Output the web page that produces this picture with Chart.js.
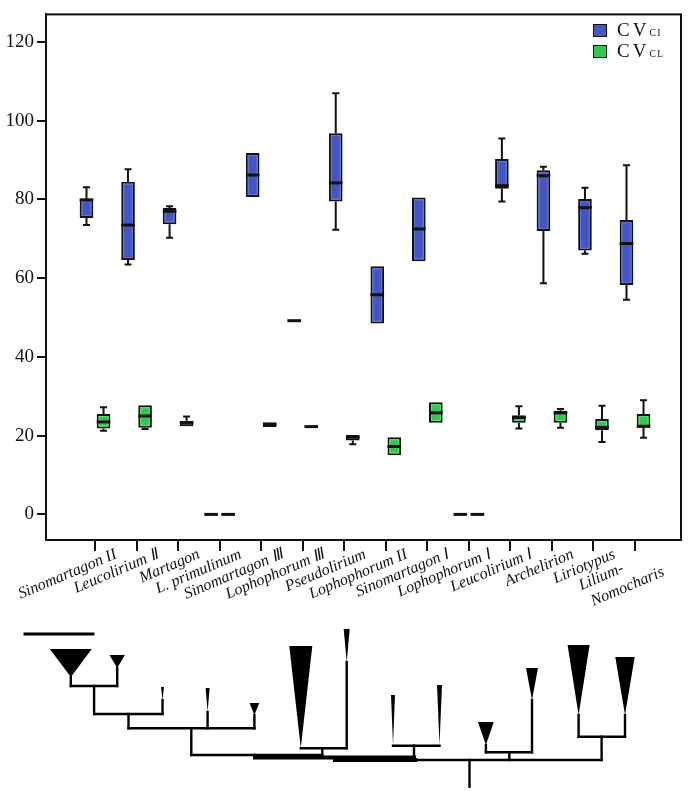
<!DOCTYPE html>
<html>
<head>
<meta charset="utf-8">
<script src="https://cdn.jsdelivr.net/npm/chart.js@4.4.1/dist/chart.umd.min.js"></script>
<style>
  html, body { margin: 0; padding: 0; background: #fff; }
  #wrap { position: relative; width: 689px; height: 791px; overflow: hidden; }
  #boxChart { position: absolute; left: 0; top: 0; }
  #treeChart { position: absolute; left: 0; top: 620px; }
  .legend { position: absolute; left: 593px; top: 19px; font-family: "Liberation Serif", serif; color: #111; }
  .legend .row { height: 21px; line-height: 21px; white-space: nowrap; }
  .legend .sw { display: inline-block; width: 12px; height: 11px; border: 1.5px solid #111; margin-right: 10px; vertical-align: -1px; }
  .legend .cv { font-size: 19px; letter-spacing: 3px; }
  .legend .sub { font-size: 9.5px; letter-spacing: 1.5px; }
</style>
</head>
<body>
<div id="wrap">
  <canvas id="boxChart" width="689" height="620"></canvas>
  <canvas id="treeChart" width="689" height="171"></canvas>
  <div class="legend">
    <div class="row"><span class="sw" style="background:#4257c4"></span><span class="cv">CV</span><span class="sub">CI</span></div>
    <div class="row"><span class="sw" style="background:#2fc94b"></span><span class="cv">CV</span><span class="sub">CL</span></div>
  </div>
</div>
<script>
// categories (sections) on the x axis
const categories = ['Sinomartagon II', 'Leucolirium Ⅱ', 'Martagon', 'L. primulinum', 'Sinomartagon Ⅲ',
    'Lophophorum Ⅲ', 'Pseudolirium', 'Lophophorum II', 'Sinomartagon Ⅰ', 'Lophophorum Ⅰ',
    'Leucolirium Ⅰ', 'Archelirion', 'Liriotypus', ['Lilium-         ', 'Nomocharis']];
const yTicks = [0, 20, 40, 60, 80, 100, 120];

// CVCI box stats
const ciMin = [73.5, 63.5, 70.3, 0, 80.6, 49.2, 72.3, 48.5, 64.3, 0, 79.5, 58.7, 66.2, 54.5];
const ciQ1  = [75.3, 64.6, 73.7, 0, 80.6, 49.2, 79.5, 48.5, 64.3, 0, 82.7, 72.0, 67.0, 58.3];
const ciMed = [79.9, 73.5, 77.0, 0, 86.2, 49.2, 84.2, 55.8, 72.5, 0, 83.5, 86.0, 77.9, 68.8];
const ciQ3  = [80.2, 84.5, 77.8, 0, 91.8, 49.2, 96.8, 63.0, 80.5, 0, 90.3, 87.4, 80.1, 74.8];
const ciMax = [83.1, 87.7, 78.3, 0, 91.8, 49.2, 107.0, 63.0, 80.5, 0, 95.5, 88.3, 83.0, 88.7];

// CVCL box stats
const clMin = [21.25, 21.7, 22.4, 0, 22.2, 22.3, 17.8, 15.0, 23.25, 0, 21.8, 22.0, 18.4, 19.5];
const clQ1  = [21.8, 22.0, 22.4, 0, 22.2, 22.3, 18.8, 15.0, 23.25, 0, 23.3, 23.3, 21.4, 22.0];
const clMed = [23.5, 25.0, 23.25, 0, 22.8, 22.3, 19.6, 17.25, 25.8, 0, 24.6, 25.8, 22.1, 22.4];
const clQ3  = [25.5, 27.7, 23.8, 0, 23.4, 22.3, 20.2, 19.6, 28.5, 0, 25.2, 26.3, 24.25, 25.5];
const clMax = [27.2, 27.7, 24.9, 0, 23.4, 22.3, 20.2, 19.6, 28.5, 0, 27.5, 26.8, 27.6, 29.0];

// cladogram below the plot: wedges [centre x, top width, top y, tip y], branches [x1, y1, x2, y2, width]
const treeWedges = [
    [70.8, 42, 649, 677], [117.2, 15.5, 655, 668], [162.5, 3, 687, 700], [207.6, 4, 688, 712],
    [254.4, 9.7, 703, 715], [300.8, 23, 646, 748], [346.7, 6, 629, 662], [393, 4, 695, 745],
    [439.5, 5, 685, 745], [485.9, 15.8, 722, 745], [532, 12, 668, 700], [578.6, 22, 645, 715],
    [625, 19.4, 657, 715]
];
const treeBranches = [
    [25, 634, 93, 634, 3],
    [70.8, 677, 70.8, 686, 2.4], [117.2, 668, 117.2, 686, 2.4], [70.8, 686, 117.2, 686, 2.4], [94.1, 686, 94.1, 714, 2.4],
    [162.5, 700, 162.5, 714, 2.4], [94.1, 714, 162.5, 714, 2.4], [128.5, 714, 128.5, 728.3, 2.4],
    [207.6, 712, 207.6, 728.3, 2.4], [254.4, 715, 254.4, 728.3, 2.4], [128.5, 728.3, 254.4, 728.3, 2.4],
    [191.3, 728.3, 191.3, 755, 2.4],
    [346.7, 662, 346.7, 748.3, 2.4], [300.8, 748.3, 346.7, 748.3, 2.4], [322.3, 748.3, 322.3, 755, 2.4],
    [191.3, 755, 322.3, 755, 2.4], [255, 755, 255, 757.5, 2.4],
    [393, 745.7, 439.5, 745.7, 2.4], [414, 745.7, 414, 757.5, 2.4],
    [255, 757.5, 414, 757.5, 4], [335, 757.5, 335, 760, 2.4],
    [485.9, 745, 485.9, 752.3, 2.4], [532, 700, 532, 752.3, 2.4], [485.9, 752.3, 532, 752.3, 2.4], [509.3, 752.3, 509.3, 760, 2.4],
    [578.6, 715, 578.6, 736.7, 2.4], [625, 715, 625, 736.7, 2.4], [578.6, 736.7, 625, 736.7, 2.4], [601.6, 736.7, 601.6, 760, 2.4],
    [335, 760, 415, 760, 4], [415, 760, 601.6, 760, 2.4],
    [469.5, 760, 469.5, 786.7, 2.4]
];

const series = [
    { label: 'CVCI', min: ciMin, q1: ciQ1, med: ciMed, q3: ciQ3, max: ciMax, color: '#4257c4', light: '#6176e2' },
    { label: 'CVCL', min: clMin, q1: clQ1, med: clMed, q3: clQ3, max: clMax, color: '#2fc94b', light: '#5be473' }
];

const serif = '"Liberation Serif", "Times New Roman", serif';

// whiskers, medians and the lighter inner edge of every box
const boxPlugin = {
    id: 'boxWhiskers',
    afterDatasetsDraw(chart) {
        const ctx = chart.ctx;
        const yScale = chart.scales.y;
        ctx.save();
        series.forEach((s, d) => {
            chart.getDatasetMeta(d).data.forEach((bar, i) => {
                const half = bar.width / 2;
                const top = yScale.getPixelForValue(s.q3[i]);
                const bottom = yScale.getPixelForValue(s.q1[i]);
                ctx.strokeStyle = '#111';
                ctx.lineWidth = 2;
                ctx.beginPath();
                if (s.max[i] > s.q3[i]) {
                    const yMax = yScale.getPixelForValue(s.max[i]);
                    ctx.moveTo(bar.x, top); ctx.lineTo(bar.x, yMax);
                    ctx.moveTo(bar.x - 3.5, yMax); ctx.lineTo(bar.x + 3.5, yMax);
                }
                if (s.min[i] < s.q1[i]) {
                    const yMin = yScale.getPixelForValue(s.min[i]);
                    ctx.moveTo(bar.x, bottom); ctx.lineTo(bar.x, yMin);
                    ctx.moveTo(bar.x - 3.5, yMin); ctx.lineTo(bar.x + 3.5, yMin);
                }
                ctx.stroke();
                if (bottom - top > 7) {
                    ctx.strokeStyle = s.light;
                    ctx.lineWidth = 1;
                    ctx.strokeRect(bar.x - half + 2.5, top + 2.5, bar.width - 5, bottom - top - 5);
                }
                const yMed = yScale.getPixelForValue(s.med[i]);
                ctx.strokeStyle = '#111';
                ctx.lineWidth = 3;
                ctx.beginPath();
                ctx.moveTo(bar.x - half, yMed); ctx.lineTo(bar.x + half, yMed);
                ctx.stroke();
            });
        });
        ctx.restore();
    }
};

// closes the frame on top and right
const framePlugin = {
    id: 'frame',
    afterDraw(chart) {
        const { left, top, right, bottom } = chart.chartArea;
        const ctx = chart.ctx;
        ctx.save();
        ctx.strokeStyle = '#111';
        ctx.lineWidth = 2;
        ctx.strokeRect(left, top, right - left, bottom - top);
        ctx.restore();
    }
};

new Chart(document.getElementById('boxChart'), {
    type: 'bar',
    data: {
        datasets: series.map(s => ({
            label: s.label,
            data: s.q1.map((q, i) => ({ x: i, y: [q, s.q3[i]] })),
            backgroundColor: s.color,
            borderColor: '#111',
            borderWidth: 2,
            borderSkipped: false,
            categoryPercentage: 0.82,
            barPercentage: 0.8
        }))
    },
    options: {
        responsive: false,
        animation: false,
        layout: { padding: { top: 7, right: 8, left: 0, bottom: 0 } },
        plugins: { legend: { display: false }, tooltip: { enabled: false } },
        scales: {
            x: {
                type: 'linear',
                offset: false,
                min: -1.18,
                max: 14.107,
                afterBuildTicks: axis => { axis.ticks = categories.map((c, i) => ({ value: i })); },
                afterFit: axis => { axis.height = 80; },
                grid: { offset: false, drawOnChartArea: false, drawTicks: true, tickLength: 11, color: '#111', lineWidth: 2 },
                border: { color: '#111', width: 2 },
                ticks: {
                    autoSkip: false,
                    minRotation: 23,
                    maxRotation: 23,
                    labelOffset: 21,
                    padding: -6,
                    color: '#111',
                    font: { family: serif, size: 16, style: 'italic' },
                    callback: (value, index) => categories[index]
                }
            },
            y: {
                min: -6.5,
                max: 127,
                afterBuildTicks: axis => { axis.ticks = yTicks.map(v => ({ value: v })); },
                afterFit: axis => { axis.width = 46; },
                grid: { drawOnChartArea: false, drawTicks: true, tickLength: 9, color: '#111', lineWidth: 2 },
                border: { color: '#111', width: 2 },
                ticks: { padding: 3, color: '#111', font: { family: serif, size: 19 } }
            }
        }
    },
    plugins: [boxPlugin, framePlugin]
});

// draws the cladogram on the second chart's scales
const treePlugin = {
    id: 'tree',
    afterDraw(chart) {
        const ctx = chart.ctx;
        const px = v => chart.scales.x.getPixelForValue(v);
        const py = v => chart.scales.y.getPixelForValue(v);
        ctx.save();
        ctx.fillStyle = '#000';
        treeWedges.forEach(([cx, w, yTop, yTip]) => {
            ctx.beginPath();
            ctx.moveTo(px(cx - w / 2), py(yTop));
            ctx.lineTo(px(cx + w / 2), py(yTop));
            ctx.lineTo(px(cx), py(yTip));
            ctx.closePath();
            ctx.fill();
        });
        ctx.strokeStyle = '#000';
        ctx.lineCap = 'square';
        treeBranches.forEach(([x1, y1, x2, y2, w]) => {
            ctx.lineWidth = w;
            ctx.beginPath();
            ctx.moveTo(px(x1), py(y1));
            ctx.lineTo(px(x2), py(y2));
            ctx.stroke();
        });
        ctx.restore();
    }
};

new Chart(document.getElementById('treeChart'), {
    type: 'scatter',
    data: { datasets: [] },
    options: {
        responsive: false,
        animation: false,
        layout: { padding: 0 },
        plugins: { legend: { display: false }, tooltip: { enabled: false } },
        scales: {
            x: { type: 'linear', min: 0, max: 689, display: false },
            y: { type: 'linear', min: 620, max: 791, reverse: true, display: false }
        }
    },
    plugins: [treePlugin]
});
</script>
</body>
</html>
